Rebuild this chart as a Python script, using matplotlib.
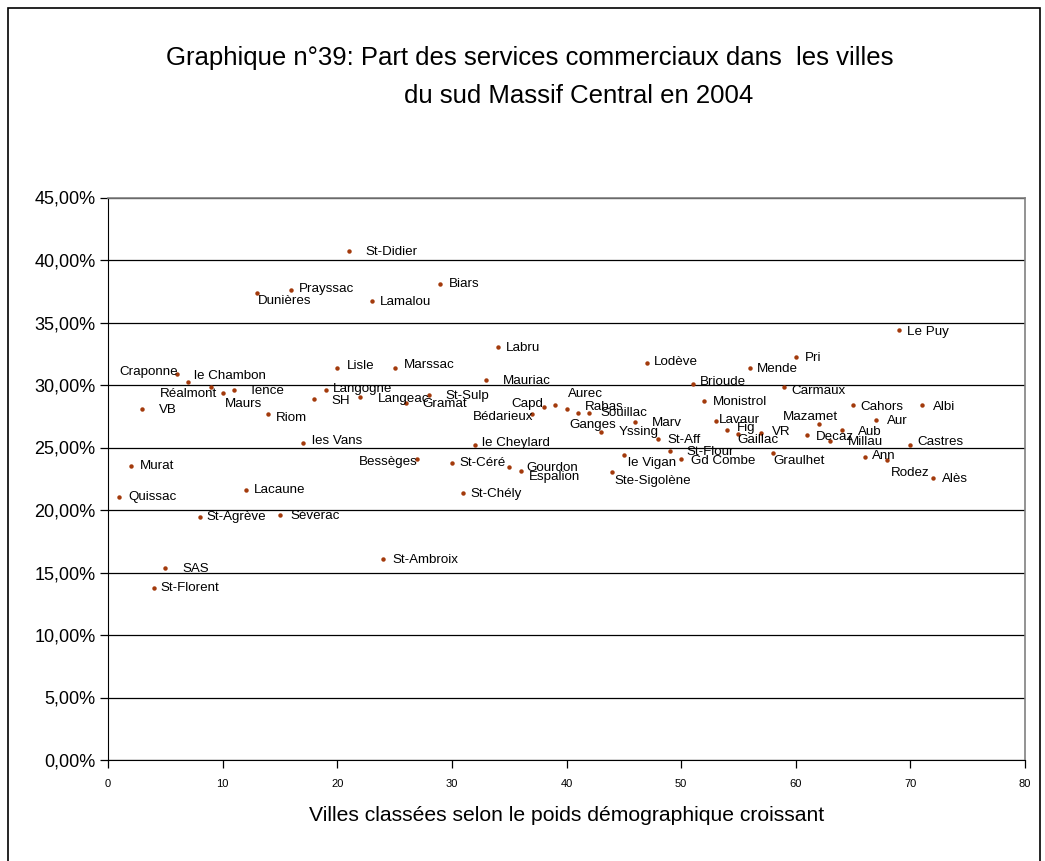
import matplotlib
matplotlib.use("Agg")
import matplotlib.pyplot as plt
from matplotlib.patches import Rectangle
from matplotlib.ticker import FuncFormatter, MultipleLocator

plt.rcParams['font.family'] = ['Liberation Sans', 'DejaVu Sans']

# Towns ranked by increasing population, share of commercial services (%)
towns = ["Quissac", "Murat", "VB", "St-Florent", "SAS", "Craponne", "le Chambon",
         "St-Agrève", "Réalmont", "Maurs", "Tence", "Lacaune", "Dunières", "Riom",
         "Séverac", "Prayssac", "les Vans", "SH", "Langogne", "Lisle", "St-Didier",
         "Langeac", "Lamalou", "St-Ambroix", "Marssac", "Gramat", "Bessèges",
         "St-Sulp", "Biars", "St-Céré", "St-Chély", "le Cheylard", "Mauriac",
         "Labru", "Gourdon", "Espalion", "Bédarieux", "Capd", "Aurec", "Ganges",
         "Rabas", "Souillac", "Yssing", "Ste-Sigolène", "le Vigan", "Marv",
         "Lodève", "St-Aff", "St-Flour", "Gd Combe", "Brioude", "Monistrol",
         "Lavaur", "Fig", "Gaillac", "Mende", "VR", "Graulhet", "Carmaux", "Pri",
         "Decaz", "Mazamet", "Millau", "Aub", "Cahors", "Ann", "Aur", "Rodez",
         "Le Puy", "Castres", "Albi", "Alès"]

rank = [1, 2, 3, 4, 5, 6, 7, 8, 9, 10, 11, 12, 13, 14, 15, 16, 17, 18, 19, 20,
        21, 22, 23, 24, 25, 26, 27, 28, 29, 30, 31, 32, 33, 34, 35, 36, 37, 38,
        39, 40, 41, 42, 43, 44, 45, 46, 47, 48, 49, 50, 51, 52, 53, 54, 55, 56,
        57, 58, 59, 60, 61, 62, 63, 64, 65, 66, 67, 68, 69, 70, 71, 72]

share = [21.04, 23.50, 28.08, 13.78, 15.33, 30.88, 30.24, 19.47, 29.82, 29.34,
         29.62, 21.63, 37.34, 27.66, 19.63, 37.63, 25.33, 28.86, 29.62, 31.34,
         40.74, 29.02, 36.70, 16.08, 31.34, 28.56, 24.10, 29.20, 38.08, 23.79,
         21.33, 25.20, 30.40, 33.02, 23.47, 23.15, 27.66, 28.24, 28.42, 28.08,
         27.78, 27.78, 26.26, 23.04, 24.42, 27.02, 31.78, 25.66, 24.72, 24.10,
         30.10, 28.72, 27.14, 26.40, 26.08, 31.34, 26.13, 24.58, 29.81, 32.27,
         25.97, 26.91, 25.50, 26.40, 28.43, 24.24, 27.17, 23.97, 34.40, 25.17,
         28.43, 22.58]

# Label placement: offset in pixels from each marker (x right, y up) and alignment
label_dx = [8.7, 8.6, 16.6, 6.7, 16.7, 1.3, 5.6, 6.7, 5.7, 2.3, 14.3, 8.3, 0.7,
            7.3, 10.7, 7.0, 8.7, 17.3, 7.0, 9.3, 16.7, 17.4, 8.3, 9.4, 9.0, 16.4,
            0.0, 16.7, 8.6, 7.3, 6.7, 6.7, 16.7, 8.3, 16.7, 8.6, 1.6, 0.0, 13.3,
            3.3, 7.0, 10.8, 17.4, 1.6, 4.4, 17.0, 7.4, 9.4, 16.3, 10.0, 7.3, 9.0,
            3.6, 9.7, -1.0, 6.7, 11.0, 1.0, 6.7, 9.0, 9.0, 19.6, 17.3, 16.0, 7.0,
            7.0, 10.7, 3.6, 8.3, 7.3, 11.0, 9.0]
label_dy = [0.0, 0.6, -1.0, -0.6, -0.7, 2.3, 6.3, -0.6, -6.7, -10.7, -1.0, 0.0,
            -7.4, -3.4, -1.0, 1.0, 2.6, -1.4, 0.4, 2.6, -1.6, -1.7, -1.0, -1.0,
            3.3, -1.3, -3.0, -0.7, 0.0, -0.6, -1.0, 2.3, -1.3, -1.0, -1.0, -6.6,
            -3.0, 3.3, 10.4, -16.0, 6.0, -0.6, -0.6, -9.0, -8.6, -1.0, 1.0, -0.7,
            -0.7, -2.0, 2.0, -1.3, 0.7, 1.7, -6.0, -1.0, 1.6, -8.3, -3.4, -1.6,
            -1.4, 6.4, -1.0, -1.7, -2.0, 1.0, -0.7, -13.0, -1.7, 3.0, -2.0, -1.6]
right_aligned = {"Craponne", "Réalmont", "Bessèges", "Bédarieux", "Capd", "Mazamet"}

W, H = 1045, 861
fig = plt.figure(figsize=(W / 100, H / 100), dpi=100)
fig.patch.set_facecolor("white")

# outer chart frame
fig.add_artist(Rectangle((8 / W, 1 - 1040 / H), 1032 / W, 1032 / H,
                         transform=fig.transFigure, fill=False,
                         edgecolor="black", linewidth=1.2))

left, right, top, bottom = 108, 1025, 197.5, 760
ax = fig.add_axes([left / W, 1 - bottom / H, (right - left) / W, (bottom - top) / H])

ax.set_xlim(0, 80)
ax.set_ylim(0, 45)
ax.yaxis.set_major_locator(MultipleLocator(5))
ax.xaxis.set_major_locator(MultipleLocator(10))
ax.yaxis.set_major_formatter(FuncFormatter(lambda v, p: f"{v:.2f}%".replace(".", ",")))
ax.grid(axis="y", color="black", linewidth=0.9)
ax.set_axisbelow(True)

for side in ("top", "right"):
    ax.spines[side].set_color("#808080")
    ax.spines[side].set_linewidth(1.2)
ax.spines["left"].set_color("black")
ax.spines["bottom"].set_color("black")

ax.tick_params(axis="y", direction="out", length=6, width=0.9, labelsize=13, pad=3)
ax.tick_params(axis="x", direction="out", length=6, width=0.9, labelsize=8, pad=8)

ax.plot(rank, share, linestyle="none", marker="o", markersize=3.2,
        color="#a33a0c", markeredgewidth=0)

for name, xv, yv, dx, dy in zip(towns, rank, share, label_dx, label_dy):
    ax.annotate(name, (xv, yv), xytext=(dx, dy), textcoords="offset pixels",
                ha="right" if name in right_aligned else "left", va="center",
                fontsize=9.6, color="black")

ax.set_xlabel("Villes classées selon le poids démographique croissant",
              fontsize=15.2, labelpad=12)

fig.text(529.5 / W, 1 - 58 / H,
         "Graphique n°39: Part des services commerciaux dans  les villes",
         fontsize=18.5, ha="center", va="center")
fig.text(579 / W, 1 - 96 / H, "du sud Massif Central en 2004",
         fontsize=18.5, ha="center", va="center")

fig.savefig("out.png", dpi=100)
